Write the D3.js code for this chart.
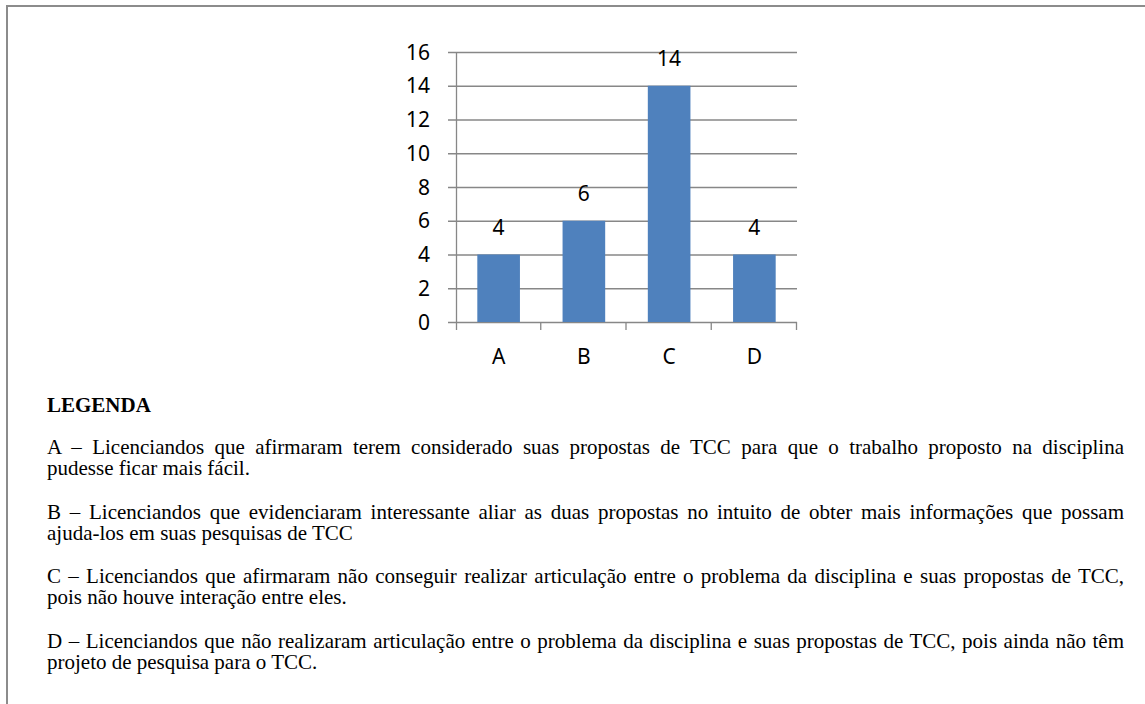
<!DOCTYPE html>
<html>
<head>
<meta charset="utf-8">
<script src="https://cdn.jsdelivr.net/npm/d3@7"></script>
<style>
  body { margin: 0; background: #fff; }
  #frame {
    position: absolute; left: 6px; top: 5px; width: 1139px; height: 699px;
    border-top: 2px solid #8c8c8c; border-left: 2px solid #8c8c8c;
  }
  #chart { position: absolute; left: 0; top: 0; }
  #legend {
    position: absolute; left: 47px; top: 395px; width: 1077px;
    font-family: "Liberation Serif", "Times New Roman", serif; font-size: 21px;
    color: #000;
  }
  #legend .title { font-weight: bold; line-height: 21px; margin-bottom: 21px; }
  #legend .item { margin-bottom: 22.5px; }
  #legend .line { line-height: 21px; white-space: nowrap; }
  #legend .line.full { text-align: justify; text-align-last: justify; }
</style>
</head>
<body>
<div id="frame"></div>
<svg id="chart" width="1145" height="394"></svg>
<div id="legend"></div>
<script>
const categories = ["A", "B", "C", "D"];
const values = [4, 6, 14, 4];
const yTicks = [0, 2, 4, 6, 8, 10, 12, 14, 16];

const legendTitle = "LEGENDA";
const legendLines = [
  ["A – Licenciandos que afirmaram terem considerado suas propostas de TCC para que o trabalho proposto na disciplina",
   "pudesse ficar mais fácil."],
  ["B – Licenciandos que evidenciaram interessante aliar as duas propostas no intuito de obter mais informações que possam",
   "ajuda-los em suas pesquisas de TCC"],
  ["C – Licenciandos que afirmaram não conseguir realizar articulação entre o problema da disciplina e suas propostas de TCC,",
   "pois não houve interação entre eles."],
  ["D – Licenciandos que não realizaram articulação entre o problema da disciplina e suas propostas de TCC, pois ainda não têm",
   "projeto de pesquisa para o TCC."]
];

const margin = { top: 52, left: 456, right: 797, bottom: 322 };
const svg = d3.select("#chart");
const axisColor = "#878787";
const font = "'Noto Sans', 'Open Sans', sans-serif";
const fontSize = 21;

const x = d3.scaleBand()
  .domain(categories)
  .range([margin.left, margin.right])
  .paddingInner(0.5)
  .paddingOuter(0.25);

const y = d3.scaleLinear()
  .domain([0, 16])
  .range([margin.bottom, margin.top]);

// gridlines + y ticks
svg.append("g")
  .selectAll("line")
  .data(yTicks)
  .join("line")
  .attr("x1", margin.left - 8)
  .attr("x2", margin.right)
  .attr("y1", d => y(d) + 0.5)
  .attr("y2", d => y(d) + 0.5)
  .attr("stroke", axisColor)
  .attr("stroke-width", 1.3);

svg.append("g")
  .selectAll("text")
  .data(yTicks)
  .join("text")
  .attr("x", margin.left - 26)
  .attr("y", d => y(d))
  .attr("dy", "0.36em")
  .attr("text-anchor", "end")
  .attr("font-family", font)
  .attr("font-size", fontSize)
  .text(d => d);

// y axis line
svg.append("line")
  .attr("x1", margin.left + 0.5).attr("x2", margin.left + 0.5)
  .attr("y1", margin.top).attr("y2", margin.bottom + 8)
  .attr("stroke", axisColor).attr("stroke-width", 1.3);

// category boundary ticks
const bounds = d3.range(categories.length + 1).map(i => margin.left + i * (margin.right - margin.left) / categories.length);
svg.append("g")
  .selectAll("line")
  .data(bounds.slice(1))
  .join("line")
  .attr("x1", d => d - 0.5).attr("x2", d => d - 0.5)
  .attr("y1", margin.bottom).attr("y2", margin.bottom + 8)
  .attr("stroke", axisColor).attr("stroke-width", 1.3);

// bars
svg.append("g")
  .selectAll("rect")
  .data(categories)
  .join("rect")
  .attr("x", d => x(d))
  .attr("width", x.bandwidth())
  .attr("y", (d, i) => y(values[i]))
  .attr("height", (d, i) => y(0) - y(values[i]))
  .attr("fill", "#4f81bd");

// value labels
svg.append("g")
  .selectAll("text")
  .data(categories)
  .join("text")
  .attr("x", d => x(d) + x.bandwidth() / 2)
  .attr("y", (d, i) => y(values[i]) - 20)
  .attr("text-anchor", "middle")
  .attr("font-family", font)
  .attr("font-size", fontSize)
  .text((d, i) => values[i]);

// category labels
svg.append("g")
  .selectAll("text")
  .data(categories)
  .join("text")
  .attr("x", d => x(d) + x.bandwidth() / 2)
  .attr("y", margin.bottom + 42)
  .attr("text-anchor", "middle")
  .attr("font-family", font)
  .attr("font-size", fontSize)
  .text(d => d);

// legend text
const legend = d3.select("#legend");
legend.append("div").attr("class", "title").text(legendTitle);
const items = legend.selectAll(".item")
  .data(legendLines)
  .join("div")
  .attr("class", "item");
items.selectAll(".line")
  .data(d => d)
  .join("div")
  .attr("class", (d, i, n) => i < n.length - 1 ? "line full" : "line")
  .text(d => d);
</script>
</body>
</html>
